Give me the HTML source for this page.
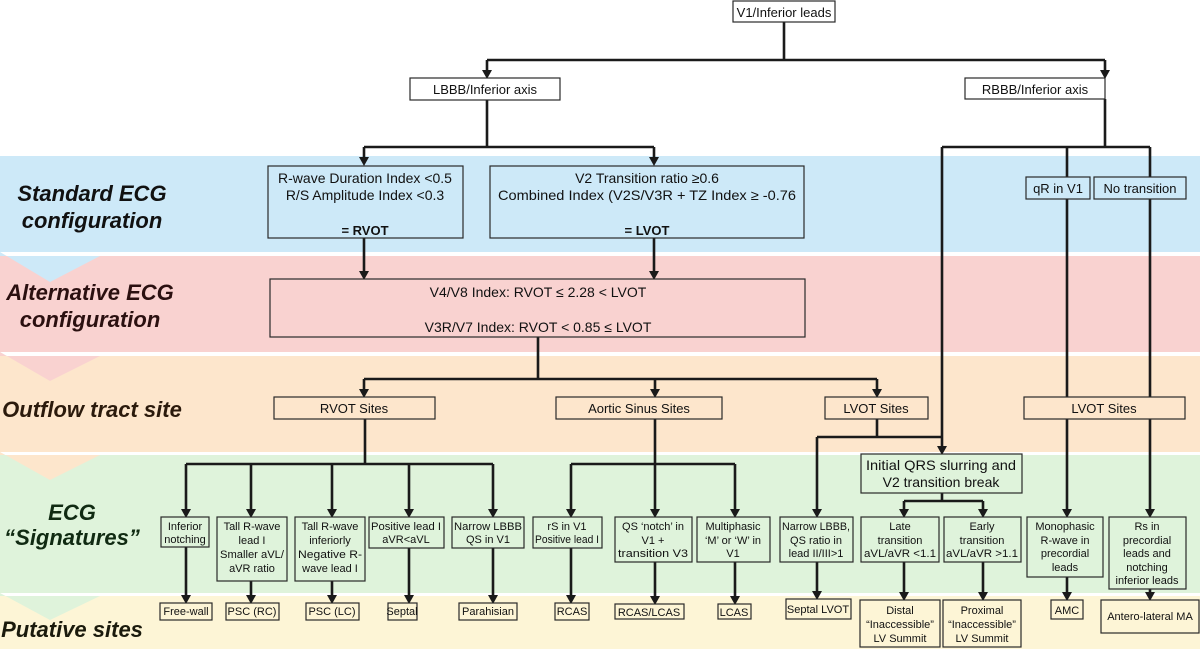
<!DOCTYPE html>
<html><head><meta charset="utf-8"><style>
html,body{margin:0;padding:0;background:#fff;}
svg{display:block;}
text{font-family:"Liberation Sans",sans-serif;}
.b{font-size:13px;fill:#111;}
.s{font-size:11px;fill:#111;}
.lab{font-size:22px;font-weight:bold;font-style:italic;}
</style></head><body>
<svg width="1200" height="649" viewBox="0 0 1200 649" xmlns="http://www.w3.org/2000/svg">
<!-- bands -->
<rect x="0" y="156" width="1200" height="96" fill="#cde9f8"/>
<rect x="0" y="256" width="1200" height="96" fill="#f9d2d0"/>
<rect x="0" y="356" width="1200" height="96" fill="#fde6cc"/>
<rect x="0" y="455" width="1200" height="138" fill="#dff3db"/>
<rect x="0" y="596" width="1200" height="53" fill="#fdf5d6"/>
<polygon points="0,252 0,256 100,256 50,282" fill="#cde9f8"/>
<polygon points="0,352 0,356 100,356 50,381" fill="#f9d2d0"/>
<polygon points="0,452 0,455 100,455 50,480" fill="#fde6cc"/>
<polygon points="0,593 0,596 100,596 50,620" fill="#dff3db"/>
<!-- left labels -->
<text class="lab" x="92" y="201" text-anchor="middle" fill="#111">Standard ECG</text>
<text class="lab" x="92" y="228" text-anchor="middle" fill="#111">configuration</text>
<text class="lab" x="90" y="300" text-anchor="middle" fill="#2b1010">Alternative ECG</text>
<text class="lab" x="90" y="327" text-anchor="middle" fill="#2b1010">configuration</text>
<text class="lab" x="92" y="417" text-anchor="middle" fill="#2b1a0c">Outflow tract site</text>
<text class="lab" x="72" y="520" text-anchor="middle" fill="#102a12">ECG</text>
<text class="lab" x="72" y="545" text-anchor="middle" fill="#102a12">“Signatures”</text>
<text class="lab" x="72" y="637" text-anchor="middle" fill="#1a1a0c">Putative sites</text>

<!-- lines -->
<g stroke="#1a1a1a" stroke-width="2.6" fill="none">
<path d="M784 22V60M487 60H1105M487 60V72M1105 60V72"/>
<path d="M487 100V147M364 147H654M364 147V159M654 147V159"/>
<path d="M1105 99V147M942 147H1150M942 147V448M1067 147V511M1150 147V511"/>
<path d="M364 238V273M654 238V273"/>
<path d="M538 337V379M364 379H877M364 379V391M655 379V391M877 379V391"/>
<path d="M365 419V464M186 464H493M186 464V511M251 464V511M332 464V511M409 464V511M493 464V511"/>
<path d="M655 419V464M571 464H735M571 464V511M735 464V511M655 464V511"/>
<path d="M877 419V437M817 437H942M817 437V511"/>
<path d="M942 493V501M904 501H983M904 501V511M983 501V511"/>
<path d="M186 547V597M251 581V597M332 581V597M409 548V597M493 548V597M571 548V597M655 562V598M735 562V598M817 562V593M904 562V594M983 562V594M1067 577V594M1150 589V594"/>
</g>
<g fill="#1a1a1a">
<polygon points="482,70 492,70 487,79"/><polygon points="1100,70 1110,70 1105,79"/>
<polygon points="359,157 369,157 364,166"/><polygon points="649,157 659,157 654,166"/>
<polygon points="937,446 947,446 942,455"/>
<polygon points="359,271 369,271 364,280"/><polygon points="649,271 659,271 654,280"/>
<polygon points="359,389 369,389 364,398"/><polygon points="650,389 660,389 655,398"/><polygon points="872,389 882,389 877,398"/>
<polygon points="181,509 191,509 186,518"/><polygon points="246,509 256,509 251,518"/><polygon points="327,509 337,509 332,518"/><polygon points="404,509 414,509 409,518"/><polygon points="488,509 498,509 493,518"/>
<polygon points="566,509 576,509 571,518"/><polygon points="650,509 660,509 655,518"/><polygon points="730,509 740,509 735,518"/>
<polygon points="812,509 822,509 817,518"/><polygon points="899,509 909,509 904,518"/><polygon points="978,509 988,509 983,518"/>
<polygon points="1062,509 1072,509 1067,518"/><polygon points="1145,509 1155,509 1150,518"/>
<polygon points="181,595 191,595 186,604"/><polygon points="246,595 256,595 251,604"/><polygon points="327,595 337,595 332,604"/><polygon points="404,595 414,595 409,604"/><polygon points="488,595 498,595 493,604"/><polygon points="566,595 576,595 571,604"/>
<polygon points="650,596 660,596 655,605"/><polygon points="730,596 740,596 735,605"/><polygon points="812,591 822,591 817,600"/>
<polygon points="899,592 909,592 904,601"/><polygon points="978,592 988,592 983,601"/><polygon points="1062,592 1072,592 1067,601"/><polygon points="1145,592 1155,592 1150,601"/>
</g>

<!-- boxes -->
<g stroke="#2a2a2a" stroke-width="1.2">
<rect x="733" y="1" width="102" height="21" fill="#fff"/>
<rect x="410" y="78" width="150" height="22" fill="#fff"/>
<rect x="965" y="78" width="140" height="21" fill="#fff"/>
<rect x="268" y="166" width="195" height="72" fill="#cde9f8"/>
<rect x="490" y="166" width="314" height="72" fill="#cde9f8"/>
<rect x="1026" y="177" width="64" height="22" fill="#cde9f8"/>
<rect x="1094" y="177" width="92" height="22" fill="#cde9f8"/>
<rect x="270" y="279" width="535" height="58" fill="#f9d2d0"/>
<rect x="274" y="397" width="161" height="22" fill="#fde6cc"/>
<rect x="556" y="397" width="166" height="22" fill="#fde6cc"/>
<rect x="825" y="397" width="103" height="22" fill="#fde6cc"/>
<rect x="1024" y="397" width="161" height="22" fill="#fde6cc"/>
<rect x="861" y="454" width="161" height="39" fill="#dff3db"/>
<rect x="161" y="517" width="48" height="30" fill="#dff3db"/>
<rect x="217" y="517" width="70" height="64" fill="#dff3db"/>
<rect x="295" y="517" width="70" height="64" fill="#dff3db"/>
<rect x="369" y="517" width="75" height="31" fill="#dff3db"/>
<rect x="452" y="517" width="72" height="31" fill="#dff3db"/>
<rect x="533" y="517" width="69" height="31" fill="#dff3db"/>
<rect x="615" y="517" width="77" height="45" fill="#dff3db"/>
<rect x="697" y="517" width="73" height="45" fill="#dff3db"/>
<rect x="780" y="517" width="73" height="45" fill="#dff3db"/>
<rect x="861" y="517" width="78" height="45" fill="#dff3db"/>
<rect x="944" y="517" width="77" height="45" fill="#dff3db"/>
<rect x="1027" y="517" width="76" height="60" fill="#dff3db"/>
<rect x="1109" y="517" width="77" height="72" fill="#dff3db"/>
<rect x="160" y="603" width="52" height="17" fill="#fdf5d6"/>
<rect x="226" y="603" width="53" height="17" fill="#fdf5d6"/>
<rect x="306" y="603" width="53" height="17" fill="#fdf5d6"/>
<rect x="388" y="603" width="29" height="17" fill="#fdf5d6"/>
<rect x="459" y="603" width="58" height="17" fill="#fdf5d6"/>
<rect x="555" y="603" width="34" height="17" fill="#fdf5d6"/>
<rect x="615" y="604" width="69" height="15" fill="#fdf5d6"/>
<rect x="718" y="604" width="33" height="15" fill="#fdf5d6"/>
<rect x="786" y="599" width="65" height="20" fill="#fdf5d6"/>
<rect x="860" y="600" width="80" height="47" fill="#fdf5d6"/>
<rect x="943" y="600" width="78" height="47" fill="#fdf5d6"/>
<rect x="1051" y="600" width="32" height="19" fill="#fdf5d6"/>
<rect x="1101" y="600" width="98" height="33" fill="#fdf5d6"/>
</g>

<!-- box text -->
<g class="b" text-anchor="middle">
<text x="784" y="17">V1/Inferior leads</text>
<text x="485" y="94">LBBB/Inferior axis</text>
<text x="1035" y="94">RBBB/Inferior axis</text>
<text x="365" y="183" font-size="14">R-wave Duration Index &lt;0.5</text>
<text x="365" y="200" font-size="14">R/S Amplitude Index &lt;0.3</text>
<text x="365" y="235" font-weight="bold">= RVOT</text>
<text x="647" y="183" font-size="14">V2 Transition ratio ≥0.6</text>
<text x="647" y="200" font-size="14" textLength="298" lengthAdjust="spacingAndGlyphs">Combined Index (V2S/V3R + TZ Index ≥ -0.76</text>
<text x="647" y="235" font-weight="bold">= LVOT</text>
<text x="1058" y="193">qR in V1</text>
<text x="1140" y="193">No transition</text>
<text x="538" y="297" font-size="14">V4/V8 Index: RVOT ≤ 2.28 &lt; LVOT</text>
<text x="538" y="332" font-size="14">V3R/V7 Index: RVOT &lt; 0.85 ≤ LVOT</text>
<text x="354" y="413">RVOT Sites</text>
<text x="639" y="413">Aortic Sinus Sites</text>
<text x="876" y="413">LVOT Sites</text>
<text x="1104" y="413">LVOT Sites</text>
<text x="941" y="470" font-size="14" textLength="150" lengthAdjust="spacingAndGlyphs">Initial QRS slurring and</text>
<text x="941" y="487" font-size="14">V2 transition break</text>
</g>
<g class="s" text-anchor="middle">
<text x="185" y="530">Inferior</text><text x="185" y="543">notching</text>
<text x="252" y="530">Tall R-wave</text><text x="252" y="544">lead I</text><text x="252" y="558" textLength="64" lengthAdjust="spacingAndGlyphs">Smaller aVL/</text><text x="252" y="572">aVR ratio</text>
<text x="330" y="530">Tall R-wave</text><text x="330" y="544">inferiorly</text><text x="330" y="558" textLength="64" lengthAdjust="spacingAndGlyphs">Negative R-</text><text x="330" y="572">wave lead I</text>
<text x="406" y="530" textLength="70" lengthAdjust="spacingAndGlyphs">Positive lead I</text><text x="406" y="543">aVR&lt;aVL</text>
<text x="488" y="530" textLength="68" lengthAdjust="spacingAndGlyphs">Narrow LBBB</text><text x="488" y="543">QS in V1</text>
<text x="567" y="530">rS in V1</text><text x="567" y="543" textLength="64" lengthAdjust="spacingAndGlyphs">Positive lead I</text>
<text x="653" y="530">QS ‘notch’ in</text><text x="653" y="544">V1 +</text><text x="653" y="557" textLength="70" lengthAdjust="spacingAndGlyphs">transition V3</text>
<text x="733" y="530">Multiphasic</text><text x="733" y="544">‘M’ or ‘W’ in</text><text x="733" y="557">V1</text>
<text x="816" y="530" textLength="68" lengthAdjust="spacingAndGlyphs">Narrow LBBB,</text><text x="816" y="544">QS ratio in</text><text x="816" y="557">lead II/III&gt;1</text>
<text x="900" y="530">Late</text><text x="900" y="544">transition</text><text x="900" y="557" textLength="72" lengthAdjust="spacingAndGlyphs">aVL/aVR &lt;1.1</text>
<text x="982" y="530">Early</text><text x="982" y="544">transition</text><text x="982" y="557" textLength="72" lengthAdjust="spacingAndGlyphs">aVL/aVR &gt;1.1</text>
<text x="1065" y="530">Monophasic</text><text x="1065" y="544">R-wave in</text><text x="1065" y="557">precordial</text><text x="1065" y="571">leads</text>
<text x="1147" y="530">Rs in</text><text x="1147" y="544">precordial</text><text x="1147" y="557">leads and</text><text x="1147" y="571">notching</text><text x="1147" y="584">inferior leads</text>
<text x="186" y="615">Free-wall</text>
<text x="252" y="615">PSC (RC)</text>
<text x="332" y="615">PSC (LC)</text>
<text x="402" y="615">Septal</text>
<text x="488" y="615">Parahisian</text>
<text x="572" y="615">RCAS</text>
<text x="649" y="616">RCAS/LCAS</text>
<text x="734" y="616">LCAS</text>
<text x="818" y="613">Septal LVOT</text>
<text x="900" y="614">Distal</text><text x="900" y="628">“Inaccessible”</text><text x="900" y="642">LV Summit</text>
<text x="982" y="614">Proximal</text><text x="982" y="628">“Inaccessible”</text><text x="982" y="642">LV Summit</text>
<text x="1067" y="614">AMC</text>
<text x="1150" y="620">Antero-lateral MA</text>
</g>
</svg>
</body></html>
